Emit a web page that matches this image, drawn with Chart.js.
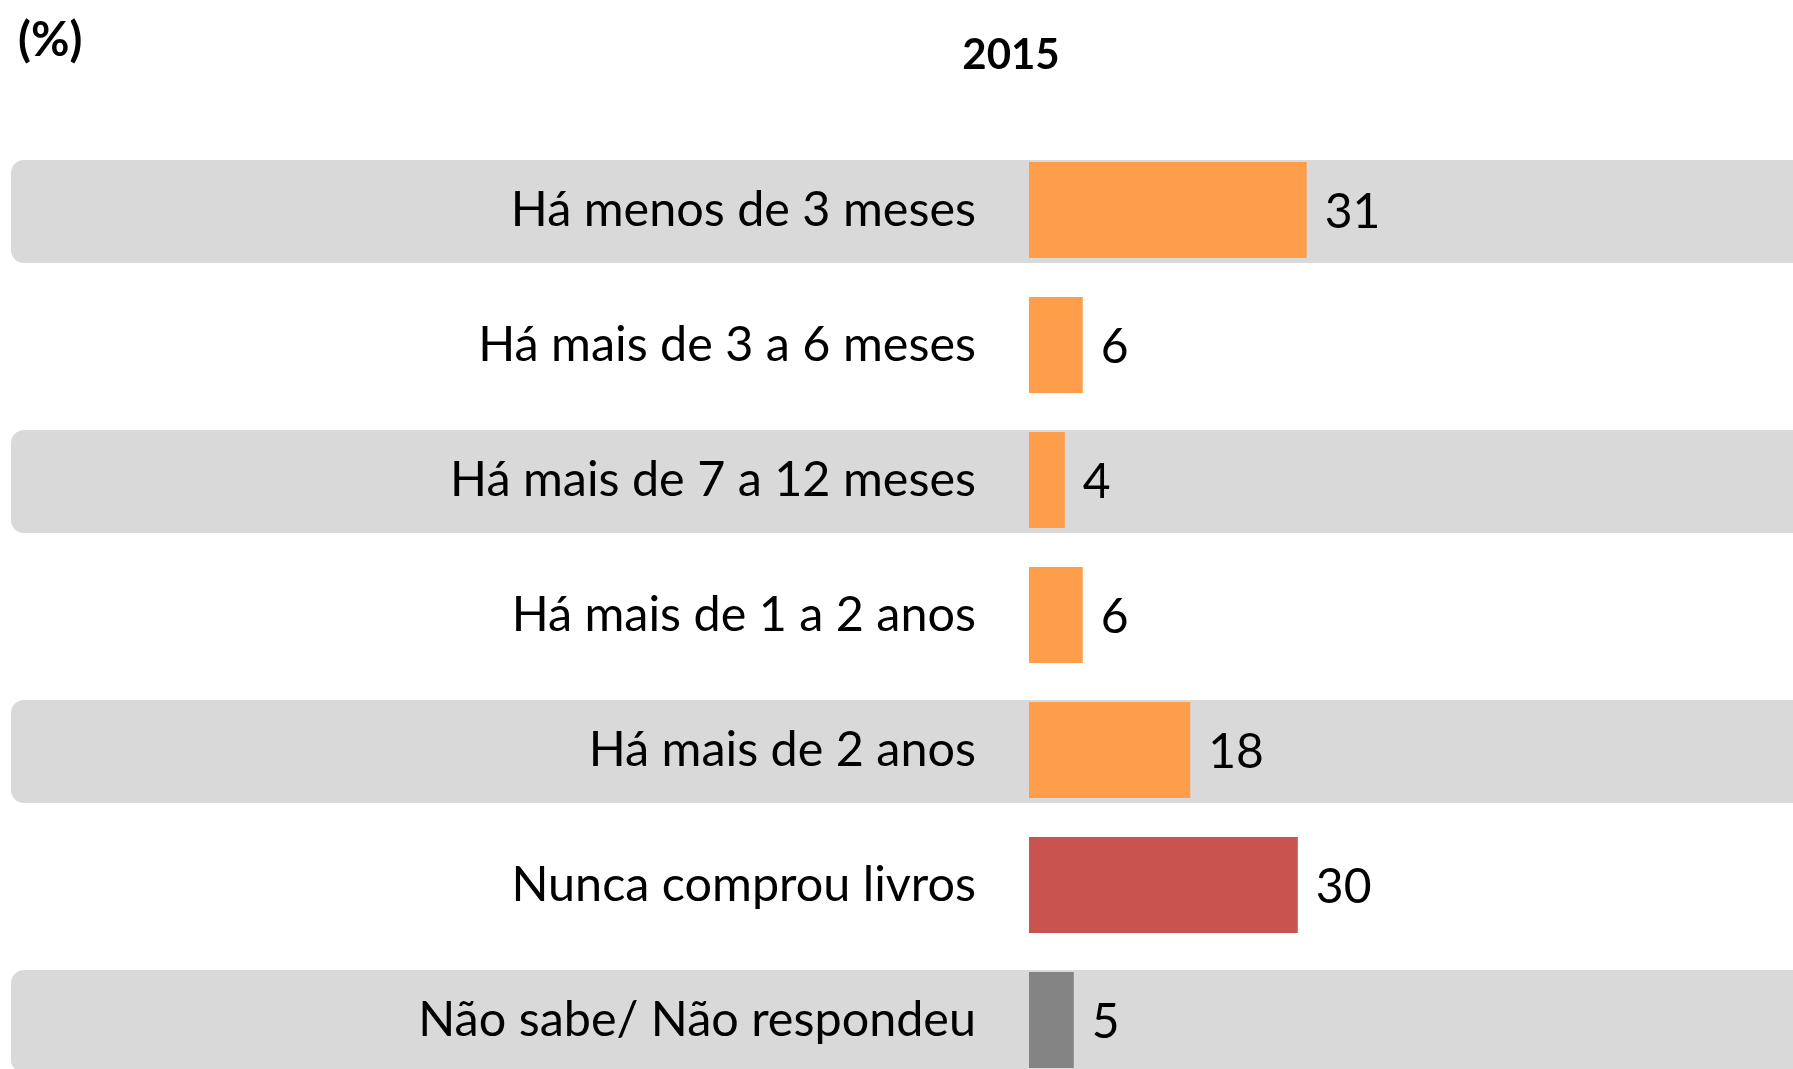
<!DOCTYPE html>
<html>
<head>
<meta charset="utf-8">
<script src="https://cdn.jsdelivr.net/npm/chart.js@4.4.1/dist/chart.umd.min.js"></script>
<style>
  html, body { margin: 0; padding: 0; background: #ffffff; overflow: hidden; height: 1069px; }
  /* the plot runs slightly past the bottom edge, so the last band is cut off */
  #wrap { width: 1793px; height: 1178px; position: relative; }
</style>
</head>
<body>
<div id="wrap"><canvas id="chart"></canvas></div>
<script>
// Última compra de livros (%)
const categories = [
  'Há menos de 3 meses',
  'Há mais de 3 a 6 meses',
  'Há mais de 7 a 12 meses',
  'Há mais de 1 a 2 anos',
  'Há mais de 2 anos',
  'Nunca comprou livros',
  'Não sabe/ Não respondeu'
];
const values = [31, 6, 4, 6, 18, 30, 5];
const seriesLabel = '2015';
const unitLabel = '(%)';

const FONT = 'Lato, "Open Sans", sans-serif';
const barColors = ['#FF9E4A', '#FF9E4A', '#FF9E4A', '#FF9E4A', '#FF9E4A', '#C9534F', '#848484'];

// Alternating grey row bands behind the label + bar of every other row
const rowBands = {
  id: 'rowBands',
  beforeDraw(chart) {
    const { ctx, width, height } = chart;
    const y = chart.scales.y;
    ctx.save();
    ctx.fillStyle = '#ffffff';
    ctx.fillRect(0, 0, width, height);
    ctx.fillStyle = '#D9D9D9';
    for (let i = 0; i < categories.length; i += 2) {
      const c = y.getPixelForValue(i);
      ctx.beginPath();
      ctx.roundRect(11, c - 50, width - 11 + 20, 103, [13, 0, 0, 13]);
      ctx.fill();
    }
    ctx.restore();
  }
};

// Value labels to the right of each bar, plus the header texts
const annotations = {
  id: 'annotations',
  afterDatasetsDraw(chart) {
    const { ctx } = chart;
    const meta = chart.getDatasetMeta(0);
    ctx.save();
    ctx.fillStyle = '#000000';
    ctx.font = '48px ' + FONT;
    ctx.textAlign = 'left';
    ctx.textBaseline = 'middle';
    meta.data.forEach((bar, i) => {
      ctx.fillText(String(values[i]), bar.x + 18, bar.y + 3);
    });
    ctx.restore();
  },
  afterDraw(chart) {
    const { ctx } = chart;
    ctx.save();
    ctx.fillStyle = '#000000';
    ctx.textBaseline = 'alphabetic';
    ctx.font = 'bold 42px ' + FONT;
    ctx.textAlign = 'center';
    ctx.fillText(seriesLabel, 1011, 69);
    ctx.font = 'bold 47px ' + FONT;
    ctx.textAlign = 'left';
    ctx.fillText(unitLabel, 18, 56);
    ctx.restore();
  }
};

new Chart(document.getElementById('chart'), {
  type: 'bar',
  data: {
    labels: categories,
    datasets: [{
      label: seriesLabel,
      data: values,
      backgroundColor: barColors,
      borderWidth: 0,
      barPercentage: 0.711,
      categoryPercentage: 1
    }]
  },
  options: {
    indexAxis: 'y',
    responsive: true,
    maintainAspectRatio: false,
    animation: false,
    devicePixelRatio: 1,
    layout: { padding: { top: 142.5, bottom: 90.5, left: 0, right: 0 } },
    plugins: {
      legend: { display: false },
      tooltip: { enabled: false },
      title: { display: false }
    },
    scales: {
      x: {
        display: false,
        min: 0,
        max: 85.27
      },
      y: {
        grid: { display: false, drawTicks: false },
        border: { display: false },
        ticks: {
          padding: 53,
          color: '#000000',
          font: { family: FONT, size: 48.5 }
        },
        afterFit(scale) { scale.width = 1029; }
      }
    }
  },
  plugins: [rowBands, annotations]
});
</script>
</body>
</html>
